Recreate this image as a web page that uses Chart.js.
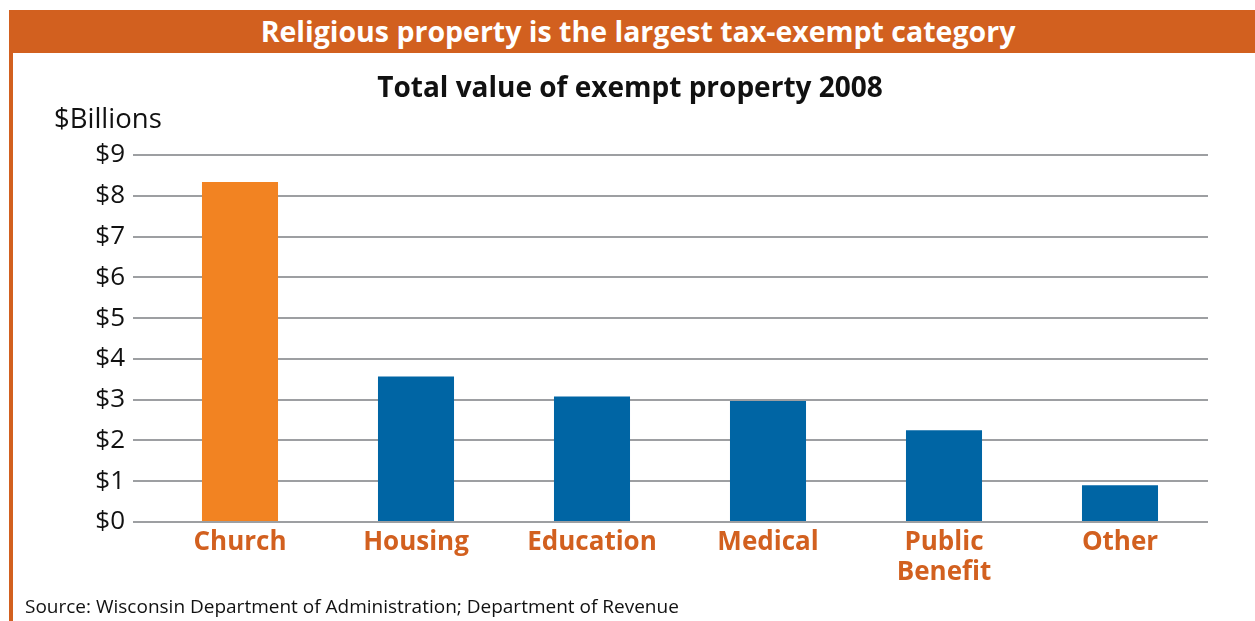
<!DOCTYPE html>
<html lang="en">
<head>
    <meta charset="UTF-8">
    <title>Total value of exempt property 2008</title>
    <script src="https://cdn.jsdelivr.net/npm/chart.js"></script>
    <style>
        body {
            margin: 0;
            width: 1255px;
            height: 621px;
            background: white;
            font-family: "Open Sans", Lato, sans-serif;
            position: relative;
            overflow: hidden;
        }
        .header {
            position: absolute;
            left: 9px;
            top: 10px;
            right: 0;
            height: 43px;
            background: #d2601f;
            color: white;
            font-weight: bold;
            font-size: 28.5px;
            line-height: 42px;
            text-align: center;
            text-indent: 12px;
        }
        .leftbar {
            position: absolute;
            left: 9px;
            top: 10px;
            width: 4px;
            bottom: 0;
            background: #d2601f;
        }
        .unit {
            position: absolute;
            left: 54px;
            top: 99px;
            font-size: 27.5px;
            color: #111;
        }
        .source {
            position: absolute;
            left: 25px;
            top: 593px;
            font-size: 19px;
            color: #111;
        }
        .chart-box {
            position: absolute;
            left: 0;
            top: 0;
            width: 1255px;
            height: 621px;
        }
    </style>
</head>
<body>
    <div class="leftbar"></div>
    <div class="header">Religious property is the largest tax-exempt category</div>
    <div class="chart-box"><canvas id="exemptChart"></canvas></div>
    <div class="unit">$Billions</div>
    <div class="source">Source: Wisconsin Department of Administration; Department of Revenue</div>

    <script>
        // datos
        const categories = ['Church', 'Housing', 'Education', 'Medical', ['Public', 'Benefit'], 'Other'];
        const values = [8.34, 3.57, 3.08, 2.97, 2.25, 0.9];
        const yTicks = [0, 1, 2, 3, 4, 5, 6, 7, 8, 9];

        const barColors = ['#f28322', '#0065a4', '#0065a4', '#0065a4', '#0065a4', '#0065a4'];

        const ctx = document.getElementById('exemptChart').getContext('2d');
        const exemptChart = new Chart(ctx, {
            type: 'bar',
            data: {
                labels: categories,
                datasets: [{
                    data: values,
                    backgroundColor: barColors,
                    categoryPercentage: 1,
                    barPercentage: 0.432
                }]
            },
            options: {
                responsive: true,
                maintainAspectRatio: false,
                animation: false,
                layout: {
                    padding: { left: 52, right: 47, top: 0, bottom: 0 }
                },
                plugins: {
                    legend: { display: false },
                    tooltip: { enabled: false },
                    title: {
                        display: true,
                        text: 'Total value of exempt property 2008',
                        color: '#111',
                        font: { family: 'Open Sans', size: 28, weight: 'bold', lineHeight: 1.2 },
                        padding: { top: 72, bottom: 49.4 }
                    }
                },
                scales: {
                    x: {
                        grid: { display: false, drawTicks: false },
                        border: { display: false },
                        ticks: {
                            color: '#d2601f',
                            padding: 6,
                            maxRotation: 0,
                            autoSkip: false,
                            font: { family: 'Open Sans', size: 26, weight: 'bold', lineHeight: 1.15 }
                        },
                        afterFit: function(scale) { scale.height = 99; }
                    },
                    y: {
                        min: yTicks[0],
                        max: yTicks[yTicks.length - 1],
                        afterBuildTicks: function(scale) {
                            scale.ticks = yTicks.map(v => ({ value: v }));
                        },
                        grid: {
                            color: '#9d9fa2',
                            lineWidth: 2,
                            drawTicks: true,
                            tickLength: 19
                        },
                        border: { display: false },
                        ticks: {
                            color: '#111',
                            padding: 8,
                            font: { family: 'Open Sans', size: 26 },
                            callback: function(value) { return '$' + value; }
                        },
                        afterFit: function(scale) { scale.width = 100; }
                    }
                }
            }
        });
    </script>
</body>
</html>
